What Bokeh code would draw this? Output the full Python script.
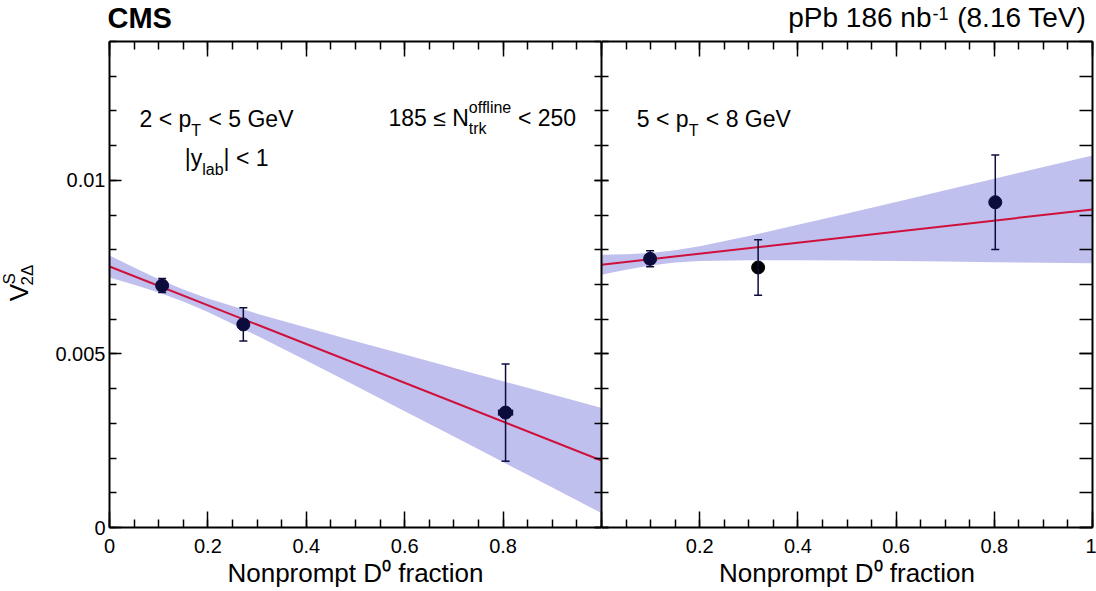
import math
from bokeh.plotting import figure
from bokeh.models import (Range1d, LinearAxis, FixedTicker, CustomJSTickFormatter,
                          Whisker, TeeHead, ColumnDataSource, Label)
from bokeh.layouts import row, column
from bokeh.embed import file_html
from bokeh.resources import INLINE

# ---------------- data ----------------
left_x = [0.107, 0.272, 0.805]
left_y = [0.00697, 0.00585, 0.00331]
left_yerr = [0.00020, 0.00048, 0.00140]
left_xerr = [0.0, 0.0, 0.014]

right_x = [0.099, 0.319, 0.802]
right_y = [0.00774, 0.00749, 0.00937]
right_yerr = [0.00023, 0.00080, 0.00136]

fit_x = [0.0, 1.0]
left_fit_y = [0.00752, 0.00193]
right_fit_y = [0.00757, 0.00916]

band_x = [0.0, 0.05, 0.1, 0.15, 0.2, 0.3, 0.4, 0.5, 0.6, 0.7, 0.8, 0.9, 1.0]
left_band_lo = [0.007203, 0.006993, 0.006768, 0.006509, 0.006209, 0.005526, 0.004808,
                0.004082, 0.003350, 0.002618, 0.001884, 0.001149, 0.000414]
left_band_hi = [0.007837, 0.007488, 0.007154, 0.006855, 0.006595, 0.006160, 0.005760,
                0.005368, 0.004982, 0.004596, 0.004212, 0.003829, 0.003446]
right_band_lo = [0.007282, 0.007426, 0.007547, 0.007633, 0.007676, 0.007699, 0.007698,
                 0.007690, 0.007676, 0.007660, 0.007643, 0.007627, 0.007611]
right_band_hi = [0.007858, 0.007874, 0.007911, 0.007985, 0.008102, 0.008397, 0.008718,
                 0.009044, 0.009376, 0.009712, 0.010047, 0.010383, 0.010717]

x_tick_values = [0.0, 0.2, 0.4, 0.6, 0.8, 1.0]
y_tick_values = [0.0, 0.005, 0.01]

# ---------------- style ----------------
FONT = "Liberation Sans"
NAVY = "#0c0c3c"
BAND = "#c0c0ee"
FITC = "#d0103c"
right_point_colors = [NAVY, "#000000", NAVY]
left_point_colors = [NAVY, NAVY, NAVY]

X_MINOR = [i * 0.05 for i in range(21)]
Y_MINOR = [i * 0.001 for i in range(15)]

ADV = {' ': 278, '<': 584, '≤': 549, 'p': 556, 'G': 778, 'e': 556, 'V': 667, '|': 260,
       'y': 500, 'N': 722, 'T': 611, 'l': 222, 'a': 556, 'b': 556, 'o': 556, 'f': 278,
       'i': 222, 'n': 556, 't': 278, 'r': 333, 'k': 500, '.': 278, 'P': 667, '(': 333,
       ')': 333, '-': 333, 'S': 667, 'Δ': 612}

BIG = 23
SMALL = 16
TOP_H = 40        # height of the strip above the panels
YT_W = 45         # width of the strip holding the y-axis title
MID = 0.36        # baseline -> middle shift (fraction of font size)


def tw(s, size):
    return sum(ADV.get(c, 556) for c in s) * size / 1000.0


def label(p, x, y, text, size, xo=0.0, yo=0.0, bold=False):
    """Horizontal text whose baseline sits yo px above (x, y)."""
    p.add_layout(Label(x=x, y=y, x_units="data", y_units="data", x_offset=xo,
                       y_offset=yo + MID * size, text=text, text_font=FONT,
                       text_font_size=f"{size}px",
                       text_font_style="bold" if bold else "normal",
                       text_baseline="middle", text_align="left", text_color="black"))


def vlabel(p, x, y, text, size):
    """Text rotated 90 deg (reads upward)."""
    p.add_layout(Label(x=x, y=y, x_units="data", y_units="data",
                       x_offset=-MID * size, y_offset=0, text=text, angle=math.pi / 2,
                       text_font=FONT, text_font_size=f"{size}px",
                       text_baseline="middle", text_align="left", text_color="black"))


def rich(p, x, y, pieces, x0=0.0):
    """pieces: (text, size, dy, advance or None); leading blanks become offsets."""
    cx = x0
    for piece in pieces:
        text, size, dy = piece[0], piece[1], piece[2]
        adv = piece[3] if len(piece) > 3 else None
        full_w = tw(text, size) if adv is None else adv
        stripped = text.lstrip(" ")
        lead = tw(text[:len(text) - len(stripped)], size)
        label(p, x, y, stripped, size, xo=cx + lead, yo=dy)
        cx += full_w


def style_axis(ax, tin, tmin, formatter=None, label_size=None, standoff=0):
    ax.major_tick_in = tin
    ax.major_tick_out = 0
    ax.minor_tick_in = tmin
    ax.minor_tick_out = 0
    ax.axis_line_width = 2
    ax.axis_line_color = "black"
    ax.major_tick_line_width = 1.5
    ax.minor_tick_line_width = 1.5
    ax.major_tick_line_color = "black"
    ax.minor_tick_line_color = "black"
    ax.major_label_text_font = FONT
    ax.major_label_text_color = "black"
    if label_size is None:
        ax.major_label_text_font_size = "0px"
        ax.major_label_standoff = 0
        ax.formatter = CustomJSTickFormatter(code="return '';")
    else:
        ax.formatter = formatter
        ax.major_label_text_font_size = label_size
        ax.major_label_standoff = standoff


def make_fig(frame_w, border_l, border_r):
    p = figure(frame_width=frame_w, frame_height=486, min_border_left=border_l,
               min_border_right=border_r, min_border_top=1, min_border_bottom=63,
               x_range=Range1d(0, 1), y_range=Range1d(0, 0.014),
               output_backend="svg", toolbar_location=None,
               background_fill_color="white", border_fill_color="white")
    p.xgrid.visible = False
    p.ygrid.visible = False
    p.outline_line_color = None
    p.add_layout(LinearAxis(), "above")
    p.add_layout(LinearAxis(), "right")
    xt = FixedTicker(ticks=x_tick_values, minor_ticks=X_MINOR)
    yt = FixedTicker(ticks=y_tick_values, minor_ticks=Y_MINOR)
    for ax in p.below + p.above:
        ax.ticker = xt
    for ax in p.left + p.right:
        ax.ticker = yt
    return p


def blank_fig(w, h):
    p = figure(width=w, height=h, x_range=Range1d(0, w), y_range=Range1d(h, 0),
               x_axis_type=None, y_axis_type=None, min_border_left=0, min_border_right=0,
               min_border_top=0, min_border_bottom=0, output_backend="svg",
               toolbar_location=None, background_fill_color="white",
               border_fill_color="white")
    p.xgrid.visible = False
    p.ygrid.visible = False
    p.outline_line_color = None
    return p


def add_data(p, xs, ys, yerr, colors, band_lo, band_hi, fit_y, xerr=None):
    p.varea(x=band_x, y1=band_lo, y2=band_hi, fill_color=BAND, fill_alpha=1.0)
    p.line(x=fit_x, y=fit_y, line_color=FITC, line_width=2)
    src = ColumnDataSource(dict(x=xs, y=ys,
                                lo=[a - b for a, b in zip(ys, yerr)],
                                hi=[a + b for a, b in zip(ys, yerr)],
                                c=colors))
    p.add_layout(Whisker(source=src, base="x", lower="lo", upper="hi", dimension="height",
                         line_color=NAVY, line_width=1.5, level="glyph",
                         upper_head=TeeHead(size=8, line_color=NAVY, line_width=1.5),
                         lower_head=TeeHead(size=8, line_color=NAVY, line_width=1.5)))
    if xerr is not None:
        idx = [i for i, e in enumerate(xerr) if e > 0]
        xsrc = ColumnDataSource(dict(y=[ys[i] for i in idx],
                                     lo=[xs[i] - xerr[i] for i in idx],
                                     hi=[xs[i] + xerr[i] for i in idx]))
        p.add_layout(Whisker(source=xsrc, base="y", lower="lo", upper="hi", dimension="width",
                             line_color=NAVY, line_width=1.5, level="glyph",
                             upper_head=TeeHead(size=6, line_color=NAVY, line_width=1.5),
                             lower_head=TeeHead(size=6, line_color=NAVY, line_width=1.5)))
    p.scatter(x="x", y="y", source=src, size=13, fill_color="c", line_color="c")


def style_xlabel(ax):
    ax.axis_label = "Nonprompt D⁰ fraction"
    ax.axis_label_text_font = FONT
    ax.axis_label_text_font_style = "normal"
    ax.axis_label_text_font_size = "26px"
    ax.axis_label_text_color = "black"
    ax.axis_label_standoff = 2


# ---------------- left panel ----------------
pl = make_fig(492, 109 - YT_W, 0)
add_data(pl, left_x, left_y, left_yerr, left_point_colors, left_band_lo, left_band_hi,
         left_fit_y, xerr=left_xerr)

xfmt_l = CustomJSTickFormatter(code="if (tick > 0.99) return ''; if (Math.abs(tick) < 1e-9) return '0'; return tick.toFixed(1);")
yfmt = CustomJSTickFormatter(code="if (Math.abs(tick) < 1e-9) return '0'; return String(+tick.toFixed(3));")
style_axis(pl.below[0], 16, 8, xfmt_l, "20px", 11)
style_axis(pl.above[0], 15, 8)
style_axis(pl.left[0], 12, 7, yfmt, "20px", 4)
style_axis(pl.right[0], 7, 7)
style_xlabel(pl.below[0])

rich(pl, 0.061, 0.011527, [("2 < p", BIG, 0), ("T", SMALL, -9, tw("T", SMALL) + 1),
                           (" < 5 GeV", BIG, 0)])
rich(pl, 0.153, 0.010405, [("|y", BIG, 0), ("lab", SMALL, -9, tw("lab", SMALL)),
                           ("| < 1", BIG, 0)])
rich(pl, 0.567, 0.011556, [("185 ≤ N", BIG, 0), ("offline", SMALL, 13, 0.0),
                           ("trk", SMALL, -8, tw("offline", SMALL)), (" < 250", BIG, 0)])

# ---------------- right panel ----------------
pr = make_fig(491, 0, 4)
add_data(pr, right_x, right_y, right_yerr, right_point_colors, right_band_lo, right_band_hi,
         right_fit_y)
xfmt_r = CustomJSTickFormatter(code="if (Math.abs(tick) < 1e-9) return ''; if (tick > 0.99) return '1'; return tick.toFixed(1);")
style_axis(pr.below[0], 16, 8, xfmt_r, "20px", 11)
style_axis(pr.above[0], 15, 8)
style_axis(pr.left[0], 7, 7)
style_axis(pr.right[0], 13, 13)
style_xlabel(pr.below[0])

rich(pr, 0.072, 0.011527, [("5 < p", BIG, 0), ("T", SMALL, -9, tw("T", SMALL) + 1),
                           (" < 8 GeV", BIG, 0)])

# ---------------- top strip: CMS and luminosity text ----------------
top = blank_fig(1096, TOP_H)
label(top, 107, 28, "CMS", 29, bold=True)
pp = [("pPb 186 nb", 28, 0, tw("pPb 186 nb", 28) + 1), ("-1", 18, 8, tw("-1", 18) + 1),
      (" (8.16 TeV)", 28, 0)]
total = sum(q[3] if len(q) > 3 else tw(q[0], q[1]) for q in pp)
rich(top, 1089 - total, 27, pp)

# ---------------- y-axis title strip ----------------
yt = blank_fig(YT_W, 550)
YSHIFT = 30
vlabel(yt, 28, 304 - TOP_H + YSHIFT, "V", 26)
vlabel(yt, 15, 285 - TOP_H + YSHIFT, "S", 17)
vlabel(yt, 33, 286 - TOP_H + YSHIFT, "2Δ", 17)

layout = column(top, row(yt, pl, pr))
open("out.html", "w").write(file_html(layout, INLINE))
